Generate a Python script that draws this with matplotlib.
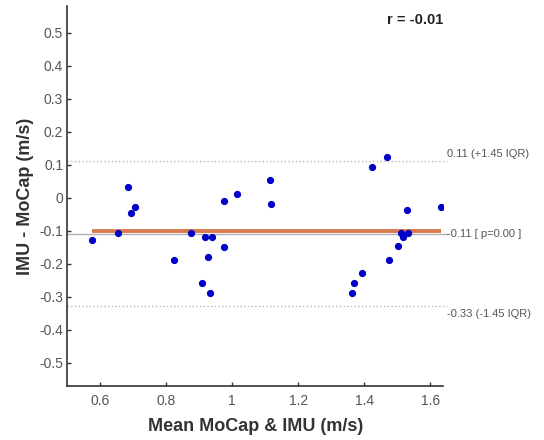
import numpy as np
import matplotlib
matplotlib.use("Agg")
import matplotlib.pyplot as plt

plt.rcParams['font.family'] = ['Liberation Sans', 'DejaVu Sans']

mean_vals = [0.575, 0.655, 0.684, 0.704, 0.694, 0.824, 0.874, 0.909, 0.918, 0.928,
             0.934, 0.939, 0.974, 0.974, 1.013, 1.114, 1.119, 1.364, 1.370, 1.394,
             1.424, 1.468, 1.474, 1.504, 1.513, 1.518, 1.534, 1.529, 1.633]
diff_vals = [-0.128, -0.108, 0.032, -0.028, -0.048, -0.189, -0.108, -0.259, -0.118, -0.180,
             -0.289, -0.118, -0.009, -0.149, 0.011, 0.052, -0.018, -0.289, -0.258, -0.228,
             0.092, 0.122, -0.189, -0.148, -0.108, -0.118, -0.108, -0.038, -0.028]
median_diff = -0.11
upper_loa = 0.11
lower_loa = -0.33
r_value = -0.01
xticks = [0.6, 0.8, 1.0, 1.2, 1.4, 1.6]
xticklabels = ['0.6', '0.8', '1', '1.2', '1.4', '1.6']
yticks = [0.5, 0.4, 0.3, 0.2, 0.1, 0.0, -0.1, -0.2, -0.3, -0.4, -0.5]
yticklabels = ['0.5', '0.4', '0.3', '0.2', '0.1', '0', '-0.1', '-0.2', '-0.3', '-0.4', '-0.5']

fig = plt.figure(figsize=(5.44, 4.40), dpi=100)
ax = fig.add_axes([0.1237, 0.1234, 0.6913, 0.8626])
xmin, xmax = 0.5, 1.64
ax.set_xlim(xmin, xmax)
ax.set_ylim(-0.57, 0.58)

x = np.array(mean_vals)
y = np.array(diff_vals)

ax.plot([xmin, xmax + 0.012], [upper_loa, upper_loa], ls=':', color='#b8b8b8', lw=1, clip_on=False)
ax.plot([xmin, xmax + 0.012], [lower_loa, lower_loa], ls=':', color='#b8b8b8', lw=1, clip_on=False)
ax.plot([xmin, xmax + 0.012], [median_diff, median_diff], ls='-', color='#b0b0b0', lw=1, clip_on=False)

# mean bias line over the data range
xs = np.array([x.min(), x.max()])
ax.plot(xs, [y.mean(), y.mean()], color='#d9794f', lw=2.8, solid_capstyle='butt', zorder=3)

ax.plot(x, y, 'o', color='#0000c8', ms=4.2, mec='#0000c8', zorder=4)

ax.text(xmax + 0.012, upper_loa + 0.008, '0.11 (+1.45 IQR)', fontsize=8, color='#555555',
        ha='left', va='bottom')
ax.text(xmax + 0.012, median_diff, '-0.11 [ p=0.00 ]', fontsize=8, color='#555555',
        ha='left', va='center')
ax.text(xmax + 0.012, lower_loa - 0.008, '-0.33 (-1.45 IQR)', fontsize=8, color='#555555',
        ha='left', va='top')
ax.text(xmax, 0.538, 'r = %.2f' % r_value, fontsize=10.5, fontweight='bold', color='#222222',
        ha='right', va='center')

ax.set_xticks(xticks)
ax.set_xticklabels(xticklabels)
ax.set_yticks(yticks)
ax.set_yticklabels(yticklabels)
ax.tick_params(direction='in', length=3, width=1, colors='#333333', labelsize=10,
               labelcolor='#555555')
ax.tick_params(axis='x', pad=6)
ax.tick_params(axis='y', pad=3)
for s in ['top', 'right']:
    ax.spines[s].set_visible(False)
for s in ['left', 'bottom']:
    ax.spines[s].set_color('#333333')
    ax.spines[s].set_linewidth(1.2)

ax.set_xlabel('Mean MoCap & IMU (m/s)', fontsize=13, fontweight='bold', color='#333333', labelpad=7)
ax.set_ylabel('IMU - MoCap (m/s)', fontsize=13, fontweight='bold', color='#333333', labelpad=4)

fig.savefig('out.png', dpi=100)
